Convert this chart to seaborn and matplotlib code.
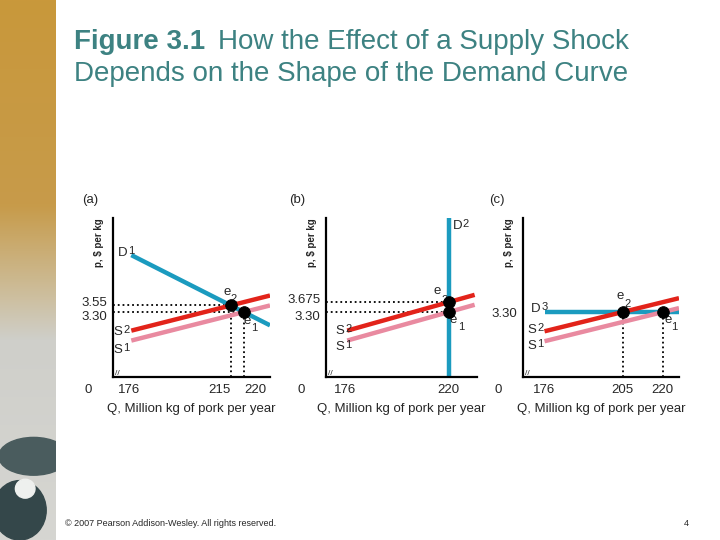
import numpy as np
import matplotlib
matplotlib.use("Agg")
import matplotlib.pyplot as plt
import seaborn as sns
from matplotlib.patches import Ellipse
from matplotlib.transforms import ScaledTranslation

sns.set_style("white")
plt.rcParams['font.family'] = ['Liberation Sans', 'DejaVu Sans']

# ---- values ($ per kg vs million kg per year) ----
P_LIM = (0.85, 6.85)

# (a) downward sloping demand D1
a_q_ticks = [176, 215, 220]
a_p_ticks = [3.55, 3.30]
a_p_labels = ['3.55', '3.30']
a_d1_q = [177, 230]
a_d1_p = [5.45, 2.80]
a_s1_q = [177, 230]
a_s1_p = [2.225, 3.55]
a_s2_q = [177, 230]
a_s2_p = [2.60, 3.925]
a_e_q = [220, 215]          # e1, e2
a_e_p = [3.30, 3.55]

# (b) vertical demand D2
b_q_ticks = [176, 220]
b_p_ticks = [3.675, 3.30]
b_p_labels = ['3.675', '3.30']
b_d2_q = [220, 220]
b_d2_p = [0.85, 6.85]
b_s1_q = [177, 231]
b_s1_p = [2.225, 3.575]
b_s2_q = [177, 231]
b_s2_p = [2.60, 3.95]
b_e_q = [220, 220]
b_e_p = [3.30, 3.675]

# (c) horizontal demand D3
c_q_ticks = [176, 205, 220]
c_p_ticks = [3.30]
c_p_labels = ['3.30']
c_d3_q = [176, 226]
c_d3_p = [3.30, 3.30]
c_s1_q = [176, 226]
c_s1_p = [2.20, 3.45]
c_s2_q = [176, 226]
c_s2_p = [2.575, 3.825]
c_e_q = [220, 205]
c_e_p = [3.30, 3.30]

RED = '#e2231a'
PINK = '#e98aa0'
BLUE = '#1b9bbf'
TEAL = '#3d8282'
FS = 9.5

fig = plt.figure(figsize=(7.2, 5.4), dpi=100)

# decorative strip on the left (gold fading to grey, dark marble at the foot)
strip = fig.add_axes([0, 0, 56 / 720, 1])
grad = np.linspace(0, 1, 256)[:, None]
cmap = matplotlib.colors.LinearSegmentedColormap.from_list(
    'strip', [(0, '#c9983b'), (0.38, '#c79b4a'), (0.55, '#cdbf9f'),
              (0.63, '#cfcfca'), (1, '#d6d6d2')])
strip.imshow(grad, aspect='auto', cmap=cmap, extent=[0, 1, 0, 1], origin='upper')
strip.add_patch(Ellipse((0.35, 0.055), 0.95, 0.11, color='#34474a'))
strip.add_patch(Ellipse((0.6, 0.155), 1.25, 0.07, color='#4a5c5e'))
strip.add_patch(Ellipse((0.45, 0.095), 0.35, 0.035, color='#eef0ee'))
strip.set_xlim(0, 1)
strip.set_ylim(0, 1)
strip.axis('off')


def px(x, y):
    return x / 720, 1 - y / 540


def setup(ax, xlim, q_ticks, p_ticks, p_labels):
    ax.set_xlim(*xlim)
    ax.set_ylim(*P_LIM)
    sns.despine(ax=ax)
    for s in ['left', 'bottom']:
        ax.spines[s].set_linewidth(1.6)
        ax.spines[s].set_color('black')
    ax.set_xticks(q_ticks)
    ax.set_xticklabels([str(q) for q in q_ticks])
    ax.set_yticks(p_ticks)
    ax.set_yticklabels(p_labels)
    ax.tick_params(length=0, labelsize=FS, pad=5)
    ax.tick_params(axis='y', pad=4)
    ax.set_xlabel('Q, Million kg of pork per year', fontsize=FS, labelpad=5)
    ax.set_ylabel('')
    ax.text(-0.09, 1.0, r'p, \$ per kg', transform=ax.transAxes, rotation=90,
            ha='center', va='top', fontsize=7, fontweight='bold')
    ax.annotate('0', (0, 0), xycoords='axes fraction', xytext=(-25, -13),
                textcoords='offset pixels', ha='center', va='center', fontsize=FS)
    ax.text(0.015, 0.0, '//', transform=ax.transAxes, fontsize=6, ha='left', va='bottom')


def split_ylabels(ax, up_px, down_px):
    # two close price labels: upper one sits above its line, lower one below
    labs = ax.get_yticklabels()
    labs[0].set_va('bottom')
    labs[0].set_transform(labs[0].get_transform() +
                          ScaledTranslation(0, -up_px / 100, fig.dpi_scale_trans))
    labs[1].set_va('top')
    labs[1].set_transform(labs[1].get_transform() +
                          ScaledTranslation(0, down_px / 100, fig.dpi_scale_trans))


def curve(ax, q, p, color):
    sns.lineplot(x=q, y=p, ax=ax, color=color, linewidth=3.2, sort=False,
                 estimator=None, solid_capstyle='butt')


def label(ax, q, p, letter, digit, dx, dy, ha='right'):
    ax.annotate(letter, (q, p), xytext=(dx, dy), textcoords='offset pixels',
                ha=ha, va='center', fontsize=FS)
    ddx = dx + 1 if ha == 'right' else dx + 10
    ax.annotate(digit, (q, p), xytext=(ddx, dy + 2), textcoords='offset pixels',
                ha='left', va='center', fontsize=8)


def eq(ax, q, p, digit, e_off, d_off):
    ax.annotate('e', (q, p), xytext=e_off, textcoords='offset pixels',
                ha='center', va='center', fontsize=FS)
    ax.annotate(digit, (q, p), xytext=d_off, textcoords='offset pixels',
                ha='center', va='center', fontsize=8)


def dots(ax, q, p):
    sns.scatterplot(x=q, y=p, ax=ax, color='black', s=70, zorder=5, edgecolor='black')


def hdot(ax, q, p, x0):
    ax.hlines(p, x0, q, colors='black', linestyles='dotted', linewidth=1.3, zorder=1)


def vdot(ax, q, p):
    ax.vlines(q, P_LIM[0], p, colors='black', linestyles='dotted', linewidth=1.3, zorder=1)


# ---------- (a) ----------
xa = (170, 230)
ax_a = fig.add_axes([113 / 720, 1 - 377 / 540, 157 / 720, 159 / 540])
setup(ax_a, xa, a_q_ticks, a_p_ticks, a_p_labels)
for q, p in zip(a_e_q, a_e_p):
    hdot(ax_a, q, p, xa[0])
    vdot(ax_a, q, p)
curve(ax_a, a_d1_q, a_d1_p, BLUE)
curve(ax_a, a_s1_q, a_s1_p, PINK)
curve(ax_a, a_s2_q, a_s2_p, RED)
dots(ax_a, a_e_q, a_e_p)
xl = ax_a.get_xticklabels()
xl[1].set_ha('right')
xl[2].set_ha('left')
split_ylabels(ax_a, 4, 1)
label(ax_a, a_d1_q[0], a_d1_p[0], 'D', '1', -4, 2)
label(ax_a, a_s2_q[0], a_s2_p[0], 'S', '2', -9, -1)
label(ax_a, a_s1_q[0], a_s1_p[0], 'S', '1', -9, -9)
eq(ax_a, a_e_q[1], a_e_p[1], '2', (-4, 13), (3, 6))
eq(ax_a, a_e_q[0], a_e_p[0], '1', (3, -9), (10, -16))

# ---------- (b) ----------
xb = (168, 232)
ax_b = fig.add_axes([326 / 720, 1 - 377 / 540, 151 / 720, 159 / 540])
setup(ax_b, xb, b_q_ticks, b_p_ticks, b_p_labels)
for q, p in zip(b_e_q, b_e_p):
    hdot(ax_b, q, p, xb[0])
curve(ax_b, b_s1_q, b_s1_p, PINK)
curve(ax_b, b_s2_q, b_s2_p, RED)
curve(ax_b, b_d2_q, b_d2_p, BLUE)
dots(ax_b, b_e_q, b_e_p)
split_ylabels(ax_b, 4, 1)
label(ax_b, b_d2_q[1], b_d2_p[1], 'D', '2', 4, -8, ha='left')
label(ax_b, b_s2_q[0], b_s2_p[0], 'S', '2', -3, 0)
label(ax_b, b_s1_q[0], b_s1_p[0], 'S', '1', -3, -6)
eq(ax_b, b_e_q[1], b_e_p[1], '2', (-12, 11), (-4, 2))
eq(ax_b, b_e_q[0], b_e_p[0], '1', (5, -8), (13, -15))

# ---------- (c) ----------
xc = (168, 226)
ax_c = fig.add_axes([523 / 720, 1 - 377 / 540, 156 / 720, 159 / 540])
setup(ax_c, xc, c_q_ticks, c_p_ticks, c_p_labels)
for q, p in zip(c_e_q, c_e_p):
    vdot(ax_c, q, p)
curve(ax_c, c_d3_q, c_d3_p, BLUE)
curve(ax_c, c_s1_q, c_s1_p, PINK)
curve(ax_c, c_s2_q, c_s2_p, RED)
dots(ax_c, c_e_q, c_e_p)
label(ax_c, c_d3_q[0], c_d3_p[0], 'D', '3', -4, 3)
label(ax_c, c_s2_q[0], c_s2_p[0], 'S', '2', -8, 1)
label(ax_c, c_s1_q[0], c_s1_p[0], 'S', '1', -8, -5)
eq(ax_c, c_e_q[1], c_e_p[1], '2', (-2, 16), (5, 8))
eq(ax_c, c_e_q[0], c_e_p[0], '1', (5, -8), (11, -15))

# panel tags
for tag, x in [('(a)', 82), ('(b)', 289), ('(c)', 489)]:
    fig.text(*px(x, 200), tag, fontsize=FS, ha='left', va='center')

# title
t1 = fig.text(*px(74, 42), 'Figure 3.1', fontsize=20, fontweight='bold',
              color=TEAL, ha='left', va='center')
fig.canvas.draw()
bb = t1.get_window_extent(renderer=fig.canvas.get_renderer())
fig.text((bb.x1 + 13) / 720, 1 - 42 / 540, 'How the Effect of a Supply Shock',
         fontsize=20, color=TEAL, ha='left', va='center')
fig.text(*px(74, 74), 'Depends on the Shape of the Demand Curve', fontsize=20,
         color=TEAL, ha='left', va='center')

# footer
fig.text(*px(65, 524), '\u00a9 2007 Pearson Addison-Wesley. All rights reserved.',
         fontsize=6.5, ha='left', va='center')
fig.text(*px(686, 524), '4', fontsize=6.5, ha='center', va='center')

fig.savefig('out.png', dpi=100)
